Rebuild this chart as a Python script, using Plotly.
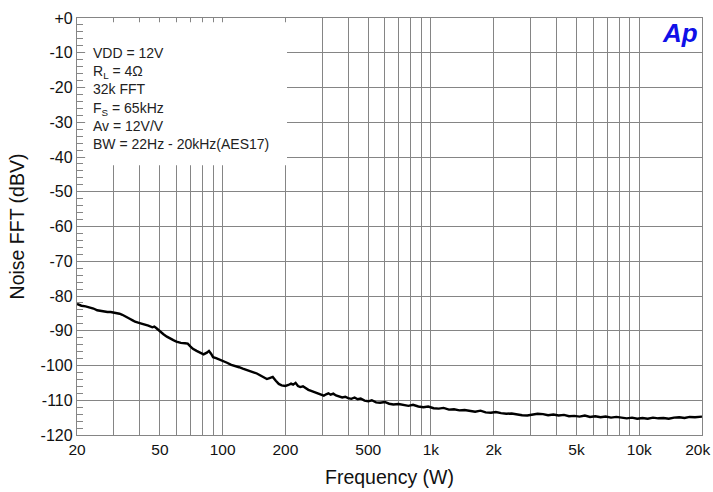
import plotly.graph_objects as go

freq_hz = [20, 21, 22, 23, 24, 25, 26, 27, 28, 29, 30, 31, 32, 33, 34, 35, 36, 37, 38, 40,
           42, 44, 46, 47, 48, 50, 52, 54, 56, 58, 60, 63, 66, 68, 70, 72, 75, 78, 81, 84,
           86, 88, 90, 93, 96, 100, 105, 110, 115, 120, 125, 130, 135, 140, 146, 152, 158, 163, 168, 174,
           180, 186, 192, 200, 207, 213, 218, 224, 230, 236, 243, 250, 258, 266, 274, 282, 290, 298, 306, 314,
           322, 330, 340, 350, 362, 375, 388, 400, 415, 430, 445, 460, 480, 500, 520, 545, 570, 600, 630, 660,
           700, 740, 780, 820, 870, 920, 970, 1030, 1090, 1150, 1220, 1290, 1370, 1450, 1540, 1630, 1730, 1830, 1940, 2050,
           2170, 2300, 2440, 2590, 2740, 2900, 3070, 3250, 3450, 3650, 3870, 4100, 4350, 4600, 4880, 5170, 5480, 5800, 6150, 6520,
           6900, 7320, 7760, 8220, 8710, 9230, 9780, 10360, 10980, 11640, 12340, 13070, 13850, 14680, 15560, 16490, 17470, 18520, 19620, 20000]

noise_dbv = [-82.3, -82.8, -83.0, -83.2, -83.6, -84.1, -84.3, -84.5, -84.6, -84.6, -84.7, -84.9, -85.1, -85.4, -85.9, -86.3, -86.6, -87.0, -87.4, -87.8,
             -88.1, -88.5, -89.0, -88.8, -89.2, -90.2, -91.0, -91.7, -92.3, -92.7, -93.1, -93.5, -93.6, -93.7, -94.5, -95.2, -95.8, -96.2, -96.8, -96.3,
             -95.8, -96.6, -97.6, -97.9, -98.2, -98.6, -99.2, -99.8, -100.1, -100.5, -100.9, -101.2, -101.6, -101.9, -102.3, -102.9, -103.5, -103.9, -103.6, -103.3,
             -104.4, -105.3, -105.7, -105.9, -105.6, -105.2, -105.5, -105.0, -105.9, -106.2, -106.0, -106.6, -107.0, -107.3, -107.6, -107.9, -108.2, -108.4, -108.7, -108.3,
             -108.0, -108.4, -108.1, -108.6, -109.0, -109.2, -109.0, -109.4, -109.6, -109.2, -109.7, -109.5, -110.1, -110.3, -110.0, -110.6, -110.7, -110.5, -111.0, -111.2,
             -111.1, -111.4, -111.6, -111.3, -111.8, -112.0, -111.8, -112.3, -112.4, -112.2, -112.7, -112.6, -112.9, -112.8, -113.1, -113.3, -113.0, -113.5, -113.6, -113.4,
             -113.7, -113.9, -113.8, -114.1, -114.3, -114.4, -114.1, -113.9, -114.0, -114.3, -114.1, -114.4, -114.2, -114.6, -114.5, -114.7, -114.4, -114.8, -114.6, -114.9,
             -114.7, -115.0, -114.8, -115.1, -115.2, -115.0, -115.3, -115.1, -115.3, -115.0, -115.2, -115.1, -115.3, -115.0, -114.9, -115.1, -114.8, -114.9, -114.6, -114.7]

x_grid_vals = [20, 30, 40, 50, 60, 70, 80, 90, 100, 200, 300, 400, 500, 600, 700, 800, 900,
               1000, 2000, 3000, 4000, 5000, 6000, 7000, 8000, 9000, 10000, 20000]
x_grid_text = ["20", "", "", "50", "", "", "", "", "100", "200", "", "", "500", "", "", "", "",
               "1k", "2k", "", "", "5k", "", "", "", "", "10k", "20k\u00a0\u00a0"]
y_tick_vals = [0, -10, -20, -30, -40, -50, -60, -70, -80, -90, -100, -110, -120]
y_tick_text = ["+0", "-10", "-20", "-30", "-40", "-50", "-60", "-70", "-80", "-90", "-100", "-110", "-120"]

info_lines = ["VDD = 12V", "R<sub>L</sub> = 4Ω", "32k FFT", "F<sub>S</sub> = 65kHz",
              "Av = 12V/V", "BW = 22Hz - 20kHz(AES17)"]

GRID = "#858585"
FONT = "Liberation Sans, Arial, sans-serif"

fig = go.Figure()
fig.add_trace(go.Scatter(x=freq_hz, y=noise_dbv, mode="lines",
                         line=dict(color="black", width=2.4), showlegend=False))

fig.update_layout(
    width=713, height=492,
    margin=dict(l=77, r=11, t=18, b=57),
    paper_bgcolor="white", plot_bgcolor="white",
    font=dict(family=FONT, color="#111111"),
    xaxis=dict(type="log", range=[1.30103, 4.30110], automargin=False,
               tickmode="array", tickvals=x_grid_vals, ticktext=x_grid_text,
               ticklabeloverflow="allow",
               showgrid=True, gridcolor=GRID, gridwidth=1.3,
               ticks="", tickfont=dict(size=15.5),
               showline=True, linecolor=GRID, linewidth=1.3, mirror=True,
               title=dict(text="Frequency (W)", font=dict(size=19.5), standoff=13),
               zeroline=False),
    yaxis=dict(range=[-120, 0], automargin=False,
               tickmode="array", tickvals=y_tick_vals, ticktext=y_tick_text,
               ticklabeloverflow="allow",
               showgrid=True, gridcolor=GRID, gridwidth=1.3,
               ticks="inside", ticklen=6, tickcolor=GRID, tickwidth=1,
               minor=dict(dtick=2, ticks="inside", ticklen=6, tickcolor=GRID, tickwidth=1, showgrid=False),
               tickfont=dict(size=16),
               showline=True, linecolor=GRID, linewidth=1.3, mirror=True,
               title=dict(text="Noise FFT (dBV)", font=dict(size=19.5), standoff=10),
               zeroline=False),
    shapes=[dict(type="rect", xref="paper", yref="paper",
                 x0=0.013, x1=0.336, y0=0.647, y1=0.99,
                 fillcolor="white", line=dict(width=0), layer="above")],
    annotations=[
        dict(text="<br>".join(info_lines), xref="paper", yref="paper",
             x=0.0224, y=0.94, xanchor="left", yanchor="top", align="left",
             showarrow=False, font=dict(size=14, family=FONT, color="#222222")),
        dict(text="<b><i>Ap</i></b>", xref="paper", yref="paper",
             x=0.997, y=1.005, xanchor="right", yanchor="top",
             showarrow=False, font=dict(size=26, family=FONT, color="#1010e8")),
    ],
)

fig.write_html("out.html", config={"displayModeBar": False},
               post_script="document.body.style.margin='0';document.body.style.overflow='hidden';")
